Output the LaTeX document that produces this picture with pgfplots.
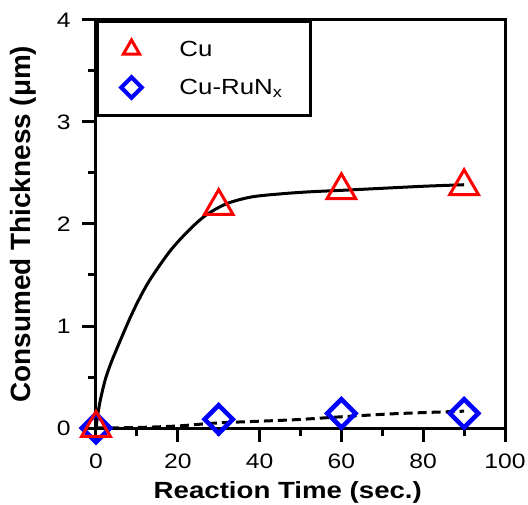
\documentclass[border=0pt]{standalone}
\usepackage{fontspec}
\setmainfont{Liberation Sans}[FakeStretch=1.18]
\newfontfamily\ylfont{Liberation Sans}
\usepackage{pgfplots}
\pgfplotsset{compat=1.18}
\begin{document}
\begin{tikzpicture}
\path[use as bounding box] (-96bp,-77bp) rectangle (432bp,428bp);
\begin{axis}[
  at={(0,0)}, anchor=south west,
  scale only axis, width=409bp, height=408bp,
  xmin=0, xmax=100, ymin=0, ymax=4,
  clip=false,
  axis line style={line width=3bp},
  every tick/.style={line width=3bp, black},
  major tick length=14bp, minor tick length=8bp,
  tick align=outside, tick pos=left,
  xtick={0,20,40,60,80,100}, ytick={0,1,2,3,4},
  minor x tick num=1, minor y tick num=1,
  /pgf/number format/assume math mode=true,
  tick label style={font=\fontsize{21}{24}\selectfont},
  xticklabel style={yshift=-8bp},
  yticklabel style={xshift=-8bp},
  xlabel={Reaction Time (sec.)},
  xlabel style={font=\bfseries\fontsize{23.5}{26}\selectfont, at={([yshift=-70bp]rel axis cs:0.469,0)}, anchor=base},
  ylabel={Consumed Thickness (μm)},
  ylabel style={font=\ylfont\bfseries\fontsize{28}{30}\selectfont, at={([xshift=-73bp]rel axis cs:0,0.5)}, anchor=center},
  reverse legend,
  legend style={at={(rel axis cs:0,1)}, anchor=north west, draw=black, line width=3bp,
    inner xsep=3bp, inner ysep=14bp, row sep=10bp, font=\fontsize{22}{24}\selectfont},
]
\addplot[only marks, blue, mark=square, mark size=10bp, mark options={line width=4.5bp, rotate=45},
  legend image code/.code={\path[draw=none, fill=none] (0bp,-14bp) rectangle (77bp,14bp);
    \draw[blue, line width=4bp] plot[mark=square, mark size=7.2bp, only marks, mark options={rotate=45}] coordinates {(31bp,0bp)};}]
  coordinates {(0,0) (30,0.085) (60,0.143) (90,0.143)};
\addlegendentry{\makebox[126bp][l]{Cu-RuN\textsubscript{x}}}
\addplot[only marks, red, mark=triangle, mark size=16.5bp, mark options={line width=3bp},
  legend image code/.code={\path[draw=none, fill=none] (0bp,-14bp) rectangle (77bp,14bp);
    \draw[red, line width=3bp] plot[mark=triangle, mark size=9.5bp, only marks] coordinates {(31bp,0bp)};}]
  coordinates {(0,0) (30,2.175) (60,2.33) (90,2.37)};
\addlegendentry{\makebox[126bp][l]{Cu}}
\addplot[forget plot, black, line width=3bp, smooth, tension=0.5]
  coordinates {(0,0) (0.5,0.15) (1.2,0.3) (2.3,0.48) (3.5,0.62) (4.7,0.74) (8,1.05) (10.5,1.26) (13.3,1.46) (18.2,1.74) (23,1.95) (27,2.09) (32,2.2) (38,2.265) (45,2.295) (52,2.315) (60,2.33) (70,2.35) (80,2.37) (90,2.385)};
\addplot[forget plot, black, line width=3bp, dash pattern=on 9bp off 5bp, smooth, tension=0.5]
  coordinates {(0,0) (10,0.005) (20,0.02) (30,0.05) (48,0.08) (60,0.11) (73,0.14) (90,0.165)};
\end{axis}
\end{tikzpicture}
\end{document}
